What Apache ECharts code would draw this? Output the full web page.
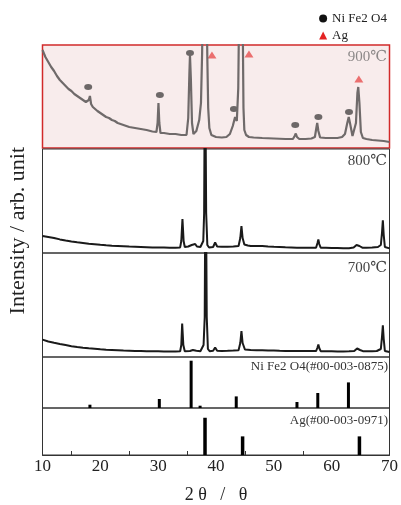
<!DOCTYPE html>
<html>
<head>
<meta charset="utf-8">
<script src="https://cdn.jsdelivr.net/npm/echarts@6/dist/echarts.min.js"></script>
<style>
  html, body { margin: 0; padding: 0; background: #fff; }
  #chart { width: 401px; height: 505px; }
</style>
</head>
<body>
<div id="chart"></div>
<script>
// XRD patterns: [2theta, intensity] (arbitrary units, px above panel bottom)
const pattern900 = [
  [10.0, 98], [10.5, 91], [11.0, 86], [11.5, 81], [12.0, 77], [12.5, 72], [13.0, 68], [13.5, 65],
  [14.0, 62], [14.5, 59], [15.0, 57], [15.5, 54], [16.0, 52], [16.5, 50], [17.0, 48], [17.5, 46],
  [17.8, 45], [18.0, 48], [18.2, 52], [18.4, 44], [18.7, 41], [19.0, 39], [19.5, 37], [20.0, 35],
  [20.5, 33], [21.0, 31], [21.5, 30], [22.0, 28], [22.5, 27], [23.0, 25], [23.5, 24], [24.0, 23],
  [25.0, 21], [26.0, 20], [27.0, 19], [28.0, 18], [29.0, 16.5], [29.7, 16], [29.9, 25], [30.05, 45],
  [30.2, 25], [30.4, 15], [31.0, 15], [32.0, 14], [33.0, 14], [34.0, 13], [34.9, 13], [35.2, 30],
  [35.4, 75], [35.5, 93], [35.65, 70], [35.85, 25], [36.1, 14], [36.6, 17], [37.1, 28], [37.4, 45],
  [37.6, 95], [37.75, 160], [38.05, 500], [38.35, 160], [38.5, 90], [38.65, 40], [38.85, 20], [39.2, 13],
  [40.0, 11], [41.0, 10.5], [41.8, 11], [42.4, 14], [42.9, 22], [43.3, 31], [43.45, 30], [43.6, 27],
  [43.85, 60], [44.0, 140], [44.3, 500], [44.6, 140], [44.75, 40], [44.9, 18], [45.2, 13], [45.7, 11],
  [46.5, 10.5], [48.0, 10], [50.0, 9.5], [52.0, 9], [53.3, 9], [53.6, 12], [53.8, 14.5], [54.0, 11],
  [54.4, 9], [55.5, 9], [56.5, 9.5], [57.1, 11], [57.35, 20], [57.5, 25], [57.7, 17], [58.0, 10.5],
  [59.0, 10], [60.0, 10], [61.0, 10], [61.8, 11], [62.3, 14], [62.7, 25], [62.95, 31], [63.2, 24],
  [63.6, 12], [63.9, 11.5], [64.2, 25], [64.45, 55], [64.6, 61], [64.8, 45], [65.05, 16], [65.4, 10],
  [66.0, 9], [67.0, 8], [68.0, 7.5], [69.0, 7], [70.0, 6]
];
const pattern800 = [
  [10, 17], [11, 16], [12, 15], [13, 13.6], [14, 12.5], [15, 11.5], [16, 10.7], [17, 10], [18, 9.3],
  [19, 8.8], [20, 8.2], [21, 7.7], [22, 7.3], [23, 7], [24, 6.7], [25, 6.4], [26, 6.2], [27, 6],
  [28, 5.8], [29, 5.6], [30, 5.5], [31, 5.4], [32, 5.3], [33, 5.3], [33.8, 5.6], [34.0, 12],
  [34.2, 34], [34.4, 12], [34.6, 6], [35.2, 6.5], [35.8, 8], [36.1, 6.5], [36.4, 9], [36.7, 6.5],
  [37.3, 6], [37.8, 12], [37.95, 40], [38.1, 220], [38.3, 40], [38.5, 8], [38.8, 5.5], [39.5, 6],
  [39.85, 10.5], [40.2, 6.5], [41, 6.2], [42, 6.3], [43, 6.5], [43.9, 7], [44.2, 15], [44.4, 27],
  [44.6, 15], [44.9, 8.5], [45.5, 7.5], [46, 7], [47, 7], [48, 7], [49, 6.5], [50, 6.2], [51, 6],
  [52, 5.7], [53, 5.5], [54, 5.3], [55, 5.3], [56, 5.3], [57.3, 5.3], [57.55, 10], [57.7, 13.6],
  [57.85, 9], [58.1, 5.3], [59, 5.2], [60, 5], [61, 5], [62, 4.8], [63, 4.8], [63.8, 5.5],
  [64.3, 8], [64.5, 8.8], [64.8, 7], [65.3, 5.3], [66, 5.3], [67, 5.5], [68, 6], [68.5, 8],
  [68.7, 20], [68.85, 32.6], [69.0, 18], [69.2, 6], [69.5, 5], [70, 4.6]
];
const pattern700 = [
  [10, 17.4], [11, 15.5], [12, 14.2], [13, 13], [14, 11.9], [15, 10.8], [16, 10], [17, 9.3],
  [18, 8.7], [19, 8.2], [20, 7.7], [21, 7.3], [22, 7], [23, 6.7], [24, 6.4], [25, 6.2], [26, 6],
  [27, 5.9], [28, 5.8], [29, 5.7], [30, 5.7], [31, 5.6], [32, 5.6], [33, 5.6], [33.8, 5.8],
  [34.0, 12], [34.15, 33.4], [34.35, 12], [34.6, 5.8], [35.5, 6], [36.0, 7], [36.3, 7.6],
  [36.6, 6.2], [37.3, 5.8], [37.85, 12], [38.05, 40], [38.2, 220], [38.4, 40], [38.6, 8],
  [38.9, 5.8], [39.5, 6.3], [39.85, 9.5], [40.2, 6.3], [41, 6], [42, 6.2], [43, 6.5], [43.9, 6.8],
  [44.2, 14], [44.4, 26], [44.6, 14], [45.0, 7.5], [46, 7], [47, 6.8], [48, 6.7], [49, 6.5],
  [50, 6.4], [51, 6.2], [52, 6.1], [53, 6], [54, 6], [55, 6], [56, 5.9], [57.3, 5.9], [57.55, 9.5],
  [57.7, 12.4], [57.85, 9], [58.1, 5.8], [59, 5.7], [60, 5.7], [61, 5.6], [62, 5.6], [63, 5.7],
  [63.9, 6], [64.4, 8.5], [64.6, 9], [64.9, 7], [65.4, 5.8], [66, 5.7], [67, 5.8], [67.8, 6],
  [68.5, 8], [68.7, 20], [68.85, 31.7], [69.0, 18], [69.2, 6], [69.5, 5], [70, 5]
];
// reference cards (stick patterns)
const nife2o4Ref = [[18.2, 3.3], [30.2, 9], [35.7, 47.3], [37.25, 2.3], [43.5, 11.6], [54.0, 6], [57.6, 15], [62.9, 25.6]];
const agRef = [[38.1, 42], [44.6, 21], [64.8, 21]];
// phase markers on the 900 pattern
const nifeMarks = [[17.9, 61], [30.3, 53], [35.5, 95], [43.1, 39], [53.7, 23], [57.7, 31], [63.0, 36]];
const agMarks = [[39.3, 93], [45.7, 94], [64.7, 69]];

const xTicks = [10, 20, 30, 40, 50, 60, 70];
const panelNames = ['900℃', '800℃', '700℃', 'Ni Fe2 O4(#00-003-0875)', 'Ag(#00-003-0971)'];

const chart = echarts.init(document.getElementById('chart'));
const serif = '"Liberation Serif", "DejaVu Serif", serif';

// panel layout: top, height, y max
const panels = [
  { top: 45, height: 103, max: 103 },
  { top: 149, height: 104, max: 104 },
  { top: 253, height: 104, max: 104 },
  { top: 357, height: 51, max: 51 },
  { top: 408, height: 53, max: 53 }
];

const grids = panels.map((p, i) => ({
  left: 42.5, right: 11.5, top: p.top, height: p.height,
  show: true,
  borderColor: i === 0 ? '#d12a2a' : '#333',
  borderWidth: i === 0 ? 1.5 : 1,
  backgroundColor: i === 0 ? '#f8ecec' : 'transparent'
}));

const xAxes = panels.map((p, i) => {
  const last = i === panels.length - 1;
  return {
    type: 'value', gridIndex: i, min: 10, max: 70, interval: 10,
    show: last,
    axisLine: { show: true, lineStyle: { color: '#333' } },
    axisTick: { show: false, inside: true },
    minorTick: { show: true, splitNumber: 2, length: 4, lineStyle: { color: '#333' } },
    splitLine: { show: false },
    axisLabel: {
      show: last, margin: 3, color: '#222', fontFamily: serif, fontSize: 17,
      formatter: v => (xTicks.includes(v) ? String(v) : '')
    },
    name: last ? '2 θ   /   θ' : '',
    nameLocation: 'middle', nameGap: 31,
    nameTextStyle: { fontFamily: serif, fontSize: 18, color: '#222' }
  };
});

const yAxes = panels.map((p, i) => ({
  type: 'value', gridIndex: i, min: 0, max: p.max, show: false
}));

const lineSeries = (data, i, color, width) => ({
  type: 'line', xAxisIndex: i, yAxisIndex: i, data: data,
  showSymbol: false, symbol: 'none', clip: true,
  lineStyle: { color: color, width: width }
});

const option = {
  animation: false,
  backgroundColor: '#fff',
  grid: grids,
  xAxis: xAxes,
  yAxis: yAxes,
  legend: {
    orient: 'vertical', right: 9, top: 7, itemGap: 4,
    itemWidth: 8, itemHeight: 8,
    textStyle: { fontFamily: serif, fontSize: 13, color: '#222' },
    data: [
      { name: 'Ni Fe2 O4', icon: 'circle', itemStyle: { color: '#111', opacity: 1 } },
      { name: 'Ag', icon: 'triangle', itemStyle: { color: '#e42222', opacity: 1 } }
    ]
  },
  series: [
    lineSeries(pattern900, 0, '#6f6a6a', 2.2),
    lineSeries(pattern800, 1, '#1a1a1a', 2),
    lineSeries(pattern700, 2, '#1a1a1a', 2),
    {
      type: 'bar', xAxisIndex: 3, yAxisIndex: 3, data: nife2o4Ref,
      barWidth: 3, itemStyle: { color: '#000' }
    },
    {
      type: 'bar', xAxisIndex: 4, yAxisIndex: 4, data: agRef,
      barWidth: 3.5, itemStyle: { color: '#000' }
    },
    {
      name: 'Ni Fe2 O4', type: 'scatter', xAxisIndex: 0, yAxisIndex: 0, data: nifeMarks,
      symbol: 'circle', symbolSize: [8, 6], itemStyle: { color: '#111', opacity: 0.6 }
    },
    {
      name: 'Ag', type: 'scatter', xAxisIndex: 0, yAxisIndex: 0, data: agMarks,
      symbol: 'triangle', symbolSize: [9, 7], itemStyle: { color: '#e42222', opacity: 0.62 }
    }
  ],
  graphic: [
    { type: 'text', right: 14, top: 50, style: { text: panelNames[0], fontFamily: serif, fontSize: 15, fill: '#8c8888' } },
    { type: 'text', right: 14, top: 154, style: { text: panelNames[1], fontFamily: serif, fontSize: 15, fill: '#444' } },
    { type: 'text', right: 14, top: 261, style: { text: panelNames[2], fontFamily: serif, fontSize: 15, fill: '#444' } },
    { type: 'text', right: 13, top: 360, style: { text: panelNames[3], fontFamily: serif, fontSize: 13, fill: '#333' } },
    { type: 'text', right: 13, top: 414, style: { text: panelNames[4], fontFamily: serif, fontSize: 13, fill: '#333' } },
    {
      type: 'text', left: 7, top: 147, rotation: Math.PI / 2,
      style: { text: 'Intensity / arb. unit', fontFamily: serif, fontSize: 22, fill: '#222' }
    }
  ]
};

chart.setOption(option);
</script>
</body>
</html>
